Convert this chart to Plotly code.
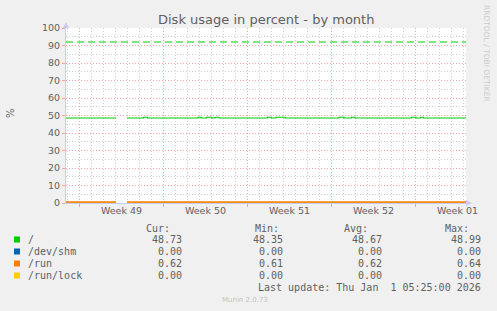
import plotly.graph_objects as go

# ---------------- data ----------------
x_start = "2025-11-28 21:00"
x_end = "2026-01-01 05:00"

root_times = ["2025-11-28 21:00", "2025-12-03 01:00", "2025-12-03 12:00", "2025-12-03 23:00",
              "2025-12-05 08:00", "2025-12-05 16:00", "2025-12-09 21:00", "2025-12-10 03:00",
              "2025-12-10 14:00", "2025-12-11 01:00", "2025-12-11 07:00", "2025-12-11 15:00",
              "2025-12-15 16:00", "2025-12-16 00:00", "2025-12-16 09:00", "2025-12-17 03:00",
              "2025-12-21 15:00", "2025-12-22 01:00", "2025-12-22 16:00", "2025-12-22 23:00",
              "2025-12-27 16:00", "2025-12-28 01:00", "2025-12-28 10:00", "2025-12-28 16:00",
              "2026-01-01 05:00"]
root_values = [48.6, 48.6, None, 48.6,
               48.99, 48.6, 48.99, 48.6,
               48.99, 48.6, 48.99, 48.6,
               48.99, 48.6, 48.99, 48.6,
               48.99, 48.6, 48.99, 48.6,
               48.99, 48.6, 48.99, 48.6,
               48.73]

small_times = ["2025-11-28 21:00", "2025-12-03 01:00", "2025-12-03 12:00", "2025-12-03 23:00", "2026-01-01 05:00"]
shm_values = [0.0, 0.0, None, 0.0, 0.0]
run_values = [0.62, 0.62, None, 0.62, 0.62]
runlock_values = [0.0, 0.0, None, 0.0, 0.0]

warning_times = [x_start, x_end]
warning_values = [92, 92]

week_starts = "2025-11-30"
week_label_times = ["2025-12-03 12:00", "2025-12-10 12:00", "2025-12-17 12:00",
                    "2025-12-24 12:00", "2025-12-31 12:00"]
week_labels = ["Week 49", "Week 50", "Week 51", "Week 52", "Week 01"]

series_names = ["/", "/dev/shm", "/run", "/run/lock"]
series_colors = ["#00CC00", "#0066B3", "#FF8000", "#FFCC00"]
cur_vals = [48.73, 0.00, 0.62, 0.00]
min_vals = [48.35, 0.00, 0.61, 0.00]
avg_vals = [48.67, 0.00, 0.62, 0.00]
max_vals = [48.99, 0.00, 0.64, 0.00]

title_text = "Disk usage in percent - by month"
y_label = "%"
last_update = "Last update: Thu Jan  1 05:25:00 2026"
footer = "Munin 2.0.73"
side_text = "RRDTOOL / TOBI OETIKER"

# ---------------- layout helpers ----------------
W, H = 497, 311
L, R, T, B = 66, 466, 28, 203


def px(x):
    return (x - L) / (R - L)


def py(y):
    return (B - y) / (B - T)


MONO = "DejaVu Sans Mono"
SANS = "DejaVu Sans"
TXT = "#606060"
MAJ = "#EFA3A3"
MIN = "#CFCFCF"

fig = go.Figure()

fig.add_trace(go.Scatter(x=warning_times, y=warning_values, mode="lines",
                         line=dict(color=series_colors[0], width=1.1, dash="7px,4px"),
                         hoverinfo="skip", showlegend=False))
fig.add_trace(go.Scatter(x=root_times, y=root_values, mode="lines", line_shape="hv",
                         line=dict(color=series_colors[0], width=1.1), connectgaps=False,
                         showlegend=False))
fig.add_trace(go.Scatter(x=small_times, y=shm_values, mode="lines", line_shape="hv",
                         line=dict(color=series_colors[1], width=1.1), connectgaps=False,
                         showlegend=False))
fig.add_trace(go.Scatter(x=small_times, y=runlock_values, mode="lines", line_shape="hv",
                         line=dict(color=series_colors[3], width=1.1), connectgaps=False,
                         showlegend=False))
fig.add_trace(go.Scatter(x=small_times, y=run_values, mode="lines", line_shape="hv",
                         line=dict(color=series_colors[2], width=1.5), connectgaps=False,
                         showlegend=False))
# invisible trace for the label axis
fig.add_trace(go.Scatter(x=[x_start, x_end], y=[None, None], xaxis="x2", showlegend=False,
                         hoverinfo="skip"))

annotations = []
shapes = []

# title
annotations.append(dict(text=title_text, x=0.5, xref="paper", xanchor="center",
                        y=py(19), yref="paper", yanchor="middle", showarrow=False,
                        font=dict(family=SANS, size=13, color="#606060")))
# y label
annotations.append(dict(text=y_label, x=px(10), xref="paper", xanchor="center",
                        y=py(113), yref="paper", yanchor="middle", showarrow=False,
                        textangle=-90, font=dict(family=SANS, size=10, color=TXT)))
# side text
annotations.append(dict(text=side_text, x=px(487), xref="paper", xanchor="center",
                        y=py(53), yref="paper", yanchor="middle", showarrow=False,
                        textangle=90, font=dict(family=SANS, size=7.5, color="#cccccc")))

# legend header
hdr_y = 228
for label, right in [("Cur:", 172), ("Min:", 281), ("Avg:", 370), ("Max:", 471)]:
    annotations.append(dict(text=label, x=px(right), xref="paper", xanchor="right",
                            y=py(hdr_y), yref="paper", yanchor="middle", showarrow=False,
                            font=dict(family=MONO, size=10, color=TXT)))

row_ys = [239.5, 251.5, 263.5, 275.5]
for i, name in enumerate(series_names):
    yy = row_ys[i]
    shapes.append(dict(type="rect", xref="paper", yref="paper",
                       x0=px(14), x1=px(20), y0=py(yy - 3), y1=py(yy + 3),
                       fillcolor=series_colors[i], line=dict(width=0)))
    annotations.append(dict(text=name, x=px(26), xref="paper", xanchor="left",
                            y=py(yy), yref="paper", yanchor="middle", showarrow=False,
                            font=dict(family=MONO, size=10, color=TXT)))
    for vals, right in [(cur_vals, 184), (min_vals, 285), (avg_vals, 384), (max_vals, 483)]:
        annotations.append(dict(text=f"{vals[i]:.2f}", x=px(right), xref="paper", xanchor="right",
                                y=py(yy), yref="paper", yanchor="middle", showarrow=False,
                                font=dict(family=MONO, size=10, color=TXT)))

annotations.append(dict(text=last_update, x=px(483), xref="paper", xanchor="right",
                        y=py(287), yref="paper", yanchor="middle", showarrow=False,
                        font=dict(family=MONO, size=10, color=TXT)))
annotations.append(dict(text=footer, x=px(245), xref="paper", xanchor="center",
                        y=py(300), yref="paper", yanchor="middle", showarrow=False,
                        font=dict(family=SANS, size=7, color="#c4c4c4")))

# axis arrows
AX = "#C8CCF0"
shapes.append(dict(type="path", xref="paper", yref="paper", xsizemode="pixel", ysizemode="pixel",
                   xanchor=0, yanchor=1, path="M -3,0 L 3,0 L 0,6 Z",
                   fillcolor=AX, line=dict(width=0)))
shapes.append(dict(type="path", xref="paper", yref="paper", xsizemode="pixel", ysizemode="pixel",
                   xanchor=1, yanchor=0, path="M 0,-3 L 0,3 L 6,0 Z",
                   fillcolor=AX, line=dict(width=0)))

fig.update_layout(
    width=W, height=H,
    margin=dict(l=L, r=W - R, t=T, b=H - B, pad=0),
    paper_bgcolor="#F0F0F0", plot_bgcolor="#FFFFFF",
    showlegend=False,
    annotations=annotations, shapes=shapes,
    xaxis=dict(type="date", range=[x_start, x_end], tick0=week_starts, dtick=7 * 86400000,
               showgrid=True, gridcolor=MAJ, griddash="1px,2px", gridwidth=1,
               showticklabels=False, ticks="outside", ticklen=3, tickcolor=MAJ,
               showline=True, linecolor=AX, linewidth=1, zeroline=False,
               minor=dict(tick0=week_starts, dtick=86400000, showgrid=True, gridcolor=MIN,
                          griddash="1px,2px", gridwidth=1, ticks="")),
    xaxis2=dict(type="date", range=[x_start, x_end], overlaying="x", anchor="y", side="bottom",
                tickmode="array", tickvals=week_label_times, ticktext=week_labels,
                showgrid=False, ticks="", showline=False, zeroline=False,
                tickfont=dict(family=SANS, size=9.5, color=TXT)),
    yaxis=dict(range=[0, 100], tick0=0, dtick=10, showgrid=True, gridcolor=MAJ,
               griddash="1px,2px", gridwidth=1, zeroline=False,
               ticks="outside", ticklen=3, tickcolor=MAJ,
               showline=True, linecolor=AX, linewidth=1,
               tickfont=dict(family=SANS, size=9.5, color=TXT),
               minor=dict(dtick=5, tick0=0, showgrid=True, gridcolor=MIN,
                          griddash="1px,2px", gridwidth=1, ticks="")),
)

fig.write_html("out.html")
